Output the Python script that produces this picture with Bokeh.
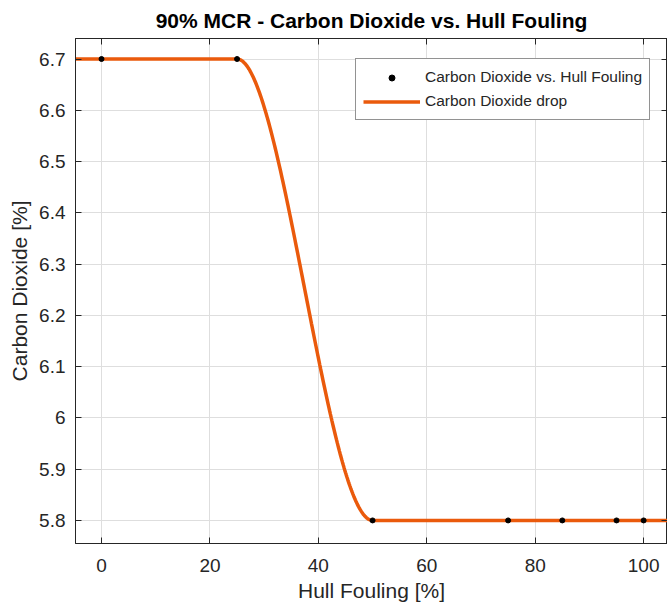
import numpy as np
from bokeh.plotting import figure
from bokeh.models import (Range1d, LinearAxis, FixedTicker, CustomJSTickFormatter,
                          Legend, LegendItem)
from bokeh.embed import file_html
from bokeh.resources import INLINE

# ---- data ----
fouling = [0, 25, 50, 75, 85, 95, 100]          # Hull Fouling [%]
co2 = [6.7, 6.7, 5.8, 5.8, 5.8, 5.8, 5.8]       # Carbon Dioxide [%]
x_ticks = [0, 20, 40, 60, 80, 100]
y_ticks = [5.8, 5.9, 6.0, 6.1, 6.2, 6.3, 6.4, 6.5, 6.6, 6.7]
title_text = "90% MCR - Carbon Dioxide vs. Hull Fouling"
x_label = "Hull Fouling [%]"
y_label = "Carbon Dioxide [%]"
legend_labels = ["Carbon Dioxide vs. Hull Fouling", "Carbon Dioxide drop"]


def pchip_fit(x, y, xq):
    """Shape-preserving piecewise cubic fit of the data (as MATLAB 'pchipinterp')."""
    x = np.asarray(x, float); y = np.asarray(y, float); xq = np.asarray(xq, float)
    h = np.diff(x); delta = np.diff(y) / h
    n = len(x); d = np.zeros(n)
    for k in range(1, n - 1):
        if delta[k - 1] * delta[k] > 0:
            w1 = 2 * h[k] + h[k - 1]; w2 = h[k] + 2 * h[k - 1]
            d[k] = (w1 + w2) / (w1 / delta[k - 1] + w2 / delta[k])
    def end_slope(h0, h1, d0, d1):
        s = ((2 * h0 + h1) * d0 - h0 * d1) / (h0 + h1)
        if np.sign(s) != np.sign(d0):
            s = 0.0
        elif np.sign(d0) != np.sign(d1) and abs(s) > abs(3 * d0):
            s = 3 * d0
        return s
    d[0] = end_slope(h[0], h[1], delta[0], delta[1])
    d[-1] = end_slope(h[-1], h[-2], delta[-1], delta[-2])
    idx = np.clip(np.searchsorted(x, xq) - 1, 0, n - 2)
    t = (xq - x[idx]) / h[idx]
    hh = h[idx]
    h00 = 2 * t**3 - 3 * t**2 + 1; h10 = t**3 - 2 * t**2 + t
    h01 = -2 * t**3 + 3 * t**2; h11 = t**3 - t**2
    return h00 * y[idx] + h10 * hh * d[idx] + h01 * y[idx + 1] + h11 * hh * d[idx + 1]


FONT = "Liberation Sans"
DARK = "#262626"
ORANGE = "#EA5A0C"

x_lo, x_hi = -4.8, 104.4
fit_x = np.linspace(x_lo - 1, x_hi + 1, 800)
fit_y = pchip_fit(fouling, co2, fit_x)

p = figure(width=667, height=608, output_backend="svg", toolbar_location=None,
           x_range=Range1d(x_lo, x_hi), y_range=Range1d(5.755, 6.74),
           min_border_left=75, min_border_right=0, min_border_top=38, min_border_bottom=65,
           background_fill_color="white", border_fill_color="white")

p.title.text = title_text
p.title.text_font = FONT
p.title.text_font_size = "21px"
p.title.text_font_style = "bold"
p.title.text_color = "black"
p.title.align = "center"
p.title.standoff = 13

p.outline_line_color = DARK
p.outline_line_width = 1

fmt = CustomJSTickFormatter(code="return String(Math.round(tick*10)/10)")

for ax in (p.xaxis[0], p.yaxis[0]):
    ax.axis_line_color = DARK
    ax.major_tick_line_color = DARK
    ax.major_tick_in = 6
    ax.major_tick_out = 0
    ax.minor_tick_line_color = None
    ax.major_label_text_font = FONT
    ax.major_label_text_font_size = "19px"
    ax.major_label_text_color = DARK
    ax.axis_label_text_font = FONT
    ax.axis_label_text_font_size = "21px"
    ax.axis_label_text_font_style = "normal"
    ax.axis_label_text_color = DARK

p.xaxis[0].ticker = FixedTicker(ticks=x_ticks)
p.yaxis[0].ticker = FixedTicker(ticks=y_ticks)
p.yaxis[0].formatter = fmt
p.xaxis[0].axis_label = x_label
p.yaxis[0].axis_label = y_label
p.xaxis[0].major_label_standoff = 15
p.yaxis[0].major_label_standoff = 10
p.xaxis[0].axis_label_standoff = 4
p.yaxis[0].axis_label_standoff = 5

# box ticks on top and right (no labels)
for loc, ticks in (("above", x_ticks), ("right", y_ticks)):
    ax = LinearAxis(ticker=FixedTicker(ticks=ticks))
    ax.axis_line_color = DARK
    ax.major_tick_line_color = DARK
    ax.major_tick_in = 6
    ax.major_tick_out = 0
    ax.minor_tick_line_color = None
    ax.major_label_text_font_size = "0px"
    ax.major_label_text_color = None
    ax.major_label_standoff = 0
    p.add_layout(ax, loc)

p.grid.grid_line_color = "#dedede"
p.grid.grid_line_width = 1
p.xgrid.ticker = FixedTicker(ticks=x_ticks)
p.ygrid.ticker = FixedTicker(ticks=y_ticks)

line_r = p.line(fit_x, fit_y, line_color=ORANGE, line_width=3.5)
dots_r = p.scatter(fouling, co2, size=5, marker="circle", fill_color="black", line_color="black")

legend = Legend(items=[LegendItem(label=legend_labels[0], renderers=[dots_r]),
                       LegendItem(label=legend_labels[1], renderers=[line_r])],
                location=(280, 423), orientation="vertical")
legend.label_text_font = FONT
legend.label_text_font_size = "15.5px"
legend.label_text_color = DARK
legend.border_line_color = DARK
legend.border_line_width = 1
legend.background_fill_color = "white"
legend.background_fill_alpha = 1
legend.glyph_width = 57
legend.glyph_height = 15
legend.label_height = 22
legend.label_standoff = 5
legend.padding = 7
legend.spacing = 2
legend.margin = 0
p.add_layout(legend)

open("out.html", "w").write(file_html(p, INLINE))
